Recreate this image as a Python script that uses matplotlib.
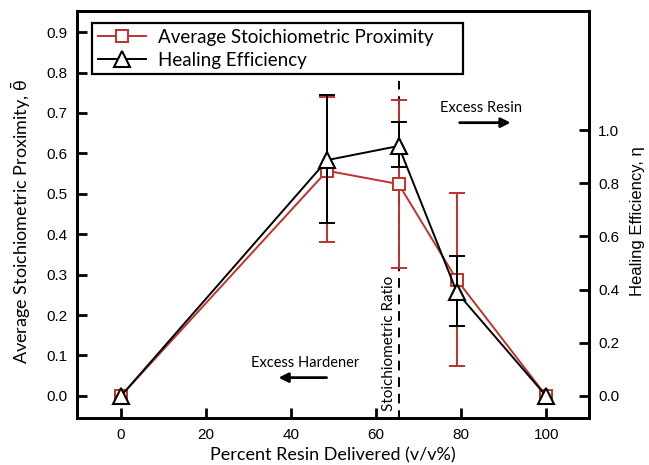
import matplotlib
matplotlib.use("Agg")
import matplotlib.pyplot as plt

plt.rcParams["mathtext.default"] = "regular"

# ---- data ----
x_vals = [0, 48.5, 65.3, 79, 100]
theta = [0.0, 0.557, 0.524, 0.287, 0.0]
theta_lo = [0.0, 0.38, 0.317, 0.074, 0.0]
theta_hi = [0.0, 0.74, 0.733, 0.502, 0.0]
eta = [0.0, 0.887, 0.94, 0.39, 0.0]
eta_lo = [0.0, 0.65, 0.86, 0.263, 0.0]
eta_hi = [0.0, 1.13, 1.03, 0.526, 0.0]
stoich_ratio = 65.3
stoich_top = 0.78
x_ticks = [0, 20, 40, 60, 80, 100]
left_ticks = [0.0, 0.1, 0.2, 0.3, 0.4, 0.5, 0.6, 0.7, 0.8, 0.9]
right_ticks = [0.0, 0.2, 0.4, 0.6, 0.8, 1.0]

RED = "#c0322b"
LABEL_FONT = ["Lato", "DejaVu Sans"]
TICK_FONT = ["Liberation Sans", "DejaVu Sans"]

fig = plt.figure(figsize=(6.49, 4.65), dpi=100)
ax = fig.add_axes([0.119, 0.101, 0.788, 0.875])
ax2 = ax.twinx()

ax.set_xlim(-10.3, 110)
ax.set_ylim(-0.055, 0.952)
ax2.set_ylim(-0.083, 1.447)

# red series (left axis)
t_err = [[t - l for t, l in zip(theta, theta_lo)], [h - t for t, h in zip(theta, theta_hi)]]
ax.errorbar(x_vals[1:4], theta[1:4], yerr=[t_err[0][1:4], t_err[1][1:4]], fmt="none",
            ecolor=RED, elinewidth=1.4, capsize=6, capthick=1.4, zorder=2)
l1, = ax.plot(x_vals, theta, color=RED, lw=1.4, marker="s", ms=9, mfc="white",
              mec=RED, mew=1.4, zorder=3, label="Average Stoichiometric Proximity")

# dashed stoichiometric line
ax.plot([stoich_ratio, stoich_ratio], [-0.06, stoich_top], color="black", lw=1.4,
        ls=(0, (5, 3.5)), zorder=1)
ax.text(63.0, 0.131, "Stoichiometric Ratio", rotation=90, ha="center",
        va="center", fontsize=11, family=LABEL_FONT)

# black series (right axis)
e_err = [[e - l for e, l in zip(eta, eta_lo)], [h - e for e, h in zip(eta, eta_hi)]]
ax2.errorbar(x_vals[1:4], eta[1:4], yerr=[e_err[0][1:4], e_err[1][1:4]], fmt="none",
             ecolor="black", elinewidth=1.4, capsize=6, capthick=1.4, zorder=2)
l2, = ax2.plot(x_vals, eta, color="black", lw=1.4, marker="^", ms=11, mfc="white",
               mec="black", mew=1.5, zorder=3, label="Healing Efficiency")

# annotations
ax.text(84.7, 0.712, "Excess Resin", ha="center", va="center", fontsize=10.5, family=LABEL_FONT)
ax.annotate("", xy=(92.3, 0.676), xytext=(79, 0.676),
            arrowprops=dict(arrowstyle="-|>", color="black", lw=2, mutation_scale=14))
ax.text(43.2, 0.081, "Excess Hardener", ha="center", va="center", fontsize=10.5, family=LABEL_FONT)
ax.annotate("", xy=(36.4, 0.045), xytext=(49.0, 0.045),
            arrowprops=dict(arrowstyle="-|>", color="black", lw=2, mutation_scale=14))

# axes styling
for a in (ax, ax2):
    for s in a.spines.values():
        s.set_linewidth(2)
ax.set_xticks(x_ticks)
ax.set_yticks(left_ticks)
ax.set_yticklabels([f"{v:.1f}" for v in left_ticks])
ax2.set_yticks(right_ticks)
ax2.set_yticklabels([f"{v:.1f}" for v in right_ticks])
ax.tick_params(axis="both", direction="in", length=7, width=2, labelsize=11, pad=7)
ax2.tick_params(axis="y", direction="in", length=7, width=2, labelsize=11, pad=7)
for lab in ax.get_xticklabels() + ax.get_yticklabels() + ax2.get_yticklabels():
    lab.set_family(TICK_FONT)

ax.set_xlabel("Percent Resin Delivered (v/v%)", fontsize=13, family=LABEL_FONT, labelpad=4)
ax.set_ylabel(r"Average Stoichiometric Proximity, $\bar{\theta}$", fontsize=13,
              family=LABEL_FONT)
ax.yaxis.set_label_coords(-0.086, 0.484)
ax2.set_ylabel("Healing Efficiency, η", fontsize=12, family=TICK_FONT)
ax2.yaxis.set_label_coords(1.08, 0.484)

leg = ax.legend(handles=[l1, l2], loc="upper left",
                bbox_to_anchor=(0.029, 0.5, 0.725, 0.47), mode="expand",
                fancybox=False, edgecolor="black", framealpha=1, handlelength=2.6,
                prop={"family": LABEL_FONT, "size": 13.5}, borderpad=0.3,
                labelspacing=0.3, handletextpad=0.6, borderaxespad=0)
leg.get_frame().set_linewidth(1.6)

fig.savefig("out.png", dpi=100, facecolor="white")
